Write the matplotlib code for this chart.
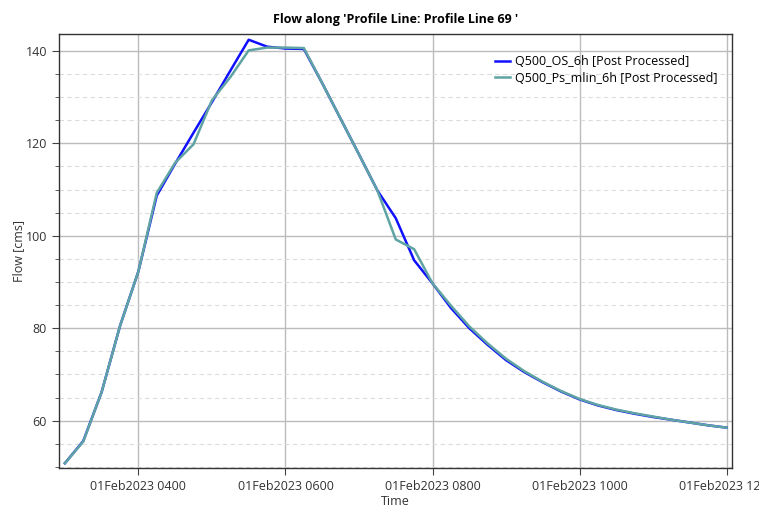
import matplotlib
matplotlib.use("Agg")
import matplotlib.pyplot as plt
import matplotlib.dates as mdates
from matplotlib.ticker import MultipleLocator
import numpy as np
import pandas as pd

plt.rcParams['font.family'] = ['Open Sans', 'DejaVu Sans']

# 15-minute output interval
times = pd.date_range("2023-02-01 03:00", "2023-02-01 12:00", freq="15min")

flow_os = [50.8, 55.6, 66.2, 80.5, 92.3, 108.7, 115.6, 122.3, 128.9, 135.7,
           142.4, 140.9, 140.5, 140.4, 133.0, 125.3, 117.6, 109.8, 103.8, 94.7,
           89.7, 84.4, 80.0, 76.4, 73.1, 70.5, 68.3, 66.3, 64.6, 63.3,
           62.3, 61.5, 60.8, 60.2, 59.6, 59.0, 58.5]
flow_ps = [50.8, 55.5, 66.2, 80.5, 92.3, 109.3, 115.8, 119.8, 129.3, 134.3,
           140.1, 140.7, 140.7, 140.6, 133.0, 125.3, 117.6, 109.8, 99.2, 97.1,
           89.7, 84.9, 80.4, 76.7, 73.4, 70.7, 68.4, 66.4, 64.7, 63.4,
           62.4, 61.6, 60.9, 60.2, 59.6, 59.0, 58.5]

labels = ["Q500_OS_6h [Post Processed]", "Q500_Ps_mlin_6h [Post Processed]"]

fig = plt.figure(figsize=(7.59, 5.11), dpi=100)
ax = fig.add_axes([0.0774, 0.0835, 0.8875, 0.8505])

ax.plot(times, flow_os, color="#1010ff", lw=1.8, label=labels[0])
ax.plot(times, flow_ps, color="#5fa3a3", lw=1.8, label=labels[1])

ax.set_xlim(pd.Timestamp("2023-02-01 02:55"), pd.Timestamp("2023-02-01 12:04:40"))
ax.set_ylim(49.7, 143.7)

ax.xaxis.set_major_locator(mdates.HourLocator(byhour=[4, 6, 8, 10, 12]))
ax.xaxis.set_major_formatter(mdates.DateFormatter("%d%b%Y %H%M"))
ax.yaxis.set_major_locator(MultipleLocator(20))
ax.yaxis.set_minor_locator(MultipleLocator(5))

ax.grid(True, which="major", color="#bcbcbc", lw=1.0)
ax.grid(True, which="minor", axis="y", color="#dcdcdc", lw=0.8, ls=(0, (4, 3)))
ax.set_axisbelow(True)

ax.tick_params(which="major", length=5, color="#444444", labelsize=9, labelcolor="#333333")
ax.tick_params(which="minor", length=3, color="#444444")
for s in ax.spines.values():
    s.set_color("#333333")
    s.set_linewidth(1.0)

ax.set_title("Flow along 'Profile Line: Profile Line 69 '", fontsize=9, fontweight="bold", pad=8)
ax.set_xlabel("Time", fontsize=9, color="#333333", labelpad=1)
ax.set_ylabel("Flow [cms]", fontsize=9, color="#333333", labelpad=0)

ax.legend(loc="upper right", frameon=False, fontsize=9, handlelength=1.2,
          handletextpad=0.4, labelspacing=0.3, borderaxespad=0.6,
          bbox_to_anchor=(0.997, 0.98))

fig.savefig("out.png", dpi=100)
